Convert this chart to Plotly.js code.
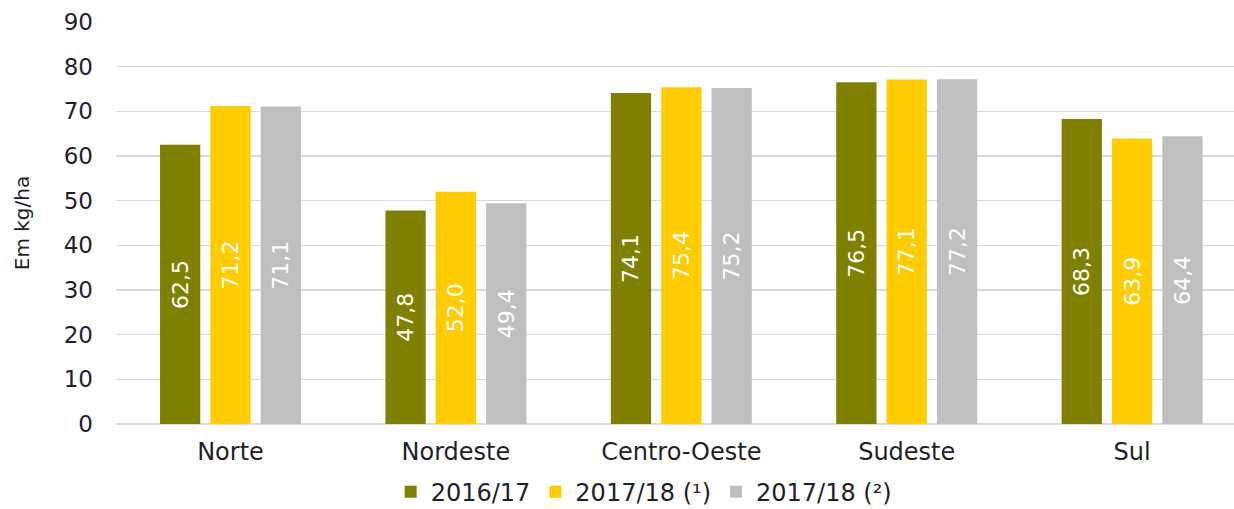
<!DOCTYPE html>
<html>
<head>
<meta charset="utf-8">
<script src="https://cdn.plot.ly/plotly-3.0.1.min.js"></script>
<style>html,body{margin:0;padding:0;background:#fff;}#chart{width:1234px;height:509px;}</style>
</head>
<body>
<div id="chart"></div>
<script>
const regions = ['Norte', 'Nordeste', 'Centro-Oeste', 'Sudeste', 'Sul'];
const seriesNames = ['2016/17', '2017/18 (¹)', '2017/18 (²)'];
const safra1617 = [62.5, 47.8, 74.1, 76.5, 68.3];
const safra1718a = [71.2, 52.0, 75.4, 77.1, 63.9];
const safra1718b = [71.1, 49.4, 75.2, 77.2, 64.4];
const colors = ['#808000', '#FFCC00', '#BFBFBF'];
const yTicks = [0, 10, 20, 30, 40, 50, 60, 70, 80, 90];

const FONT = 'DejaVu Sans, Liberation Sans, Arial, sans-serif';
const TXT = '#1f1f2a';
const seriesValues = [safra1617, safra1718a, safra1718b];

const traces = seriesValues.map((vals, i) => ({
  type: 'bar',
  name: seriesNames[i],
  x: regions,
  y: vals,
  marker: {color: colors[i], line: {width: 0}},
  texttemplate: '%{y:.1f}',
  textposition: 'inside',
  insidetextanchor: 'middle',
  textangle: -90,
  textfont: {family: FONT, size: 22, color: '#ffffff'},
  hoverinfo: 'skip'
}));

const layout = {
  width: 1234,
  height: 509,
  separators: ',.',
  margin: {l: 116, r: 0, t: 22, b: 85, autoexpand: false},
  paper_bgcolor: '#ffffff',
  plot_bgcolor: '#ffffff',
  font: {family: FONT, color: TXT, size: 23},
  barmode: 'group',
  bargap: 0.33,
  bargroupgap: 0.2,
  showlegend: true,
  legend: {
    orientation: 'h',
    xref: 'container', yref: 'container',
    x: 0.522, xanchor: 'center',
    y: 0.033, yanchor: 'middle',
    font: {family: FONT, size: 24, color: TXT},
    itemwidth: 30,
    traceorder: 'normal'
  },
  xaxis: {
    type: 'category',
    range: [-0.508, 4.452],
    showgrid: false,
    showline: false,
    zeroline: false,
    ticks: '',
    ticklabelstandoff: 11,
    tickfont: {family: FONT, size: 24, color: TXT},
    fixedrange: true
  },
  yaxis: {
    range: [0, 90],
    tickvals: yTicks,
    showgrid: true,
    gridcolor: '#D9D9D9',
    gridwidth: 1.5,
    zeroline: true,
    zerolinecolor: '#D9D9D9',
    zerolinewidth: 1.5,
    showline: false,
    ticks: '',
    ticklabelstandoff: 22,
    tickfont: {family: FONT, size: 23, color: TXT},
    title: {text: 'Em kg/ha', font: {family: FONT, size: 20, color: TXT}, standoff: 28},
    fixedrange: true
  }
};

Plotly.newPlot('chart', traces, layout, {displayModeBar: false, staticPlot: true});
</script>
</body>
</html>
